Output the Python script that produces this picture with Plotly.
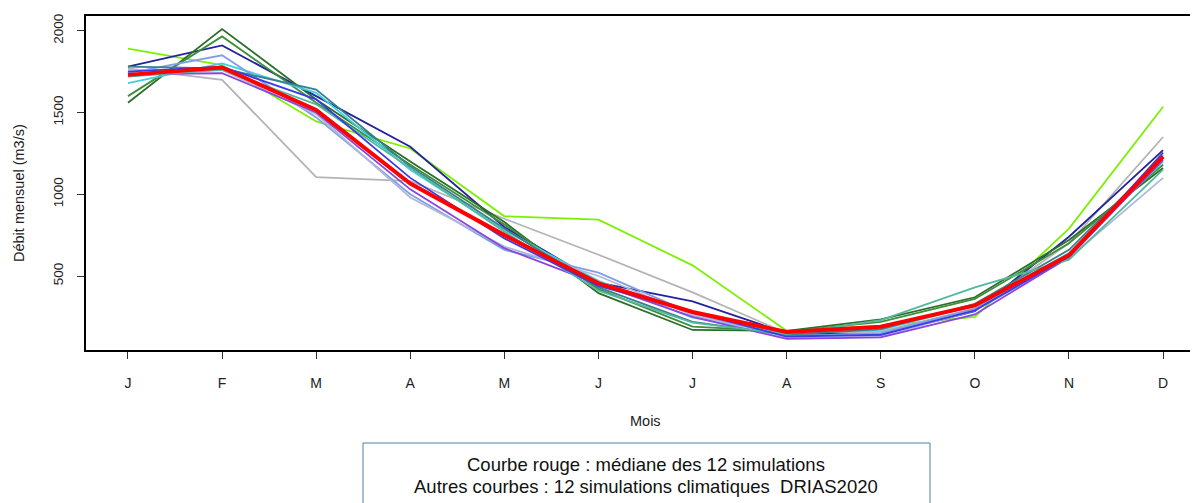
import plotly.graph_objects as go

months = ["J", "F", "M", "A", "M", "J", "J", "A", "S", "O", "N", "D"]
month_idx = list(range(1, 13))

sim_names = ["sim01", "sim02", "sim03", "sim04", "sim05", "sim06",
             "sim07", "sim08", "sim09", "sim10", "sim11", "sim12"]
sim_colors = ["#7CF000", "#B4B4B4", "#23239C", "#2A6E2A", "#3E8E3A", "#3FCFE0",
              "#7FA0E8", "#B0B8DA", "#8A44E0", "#3A7F8C", "#52B89E", "#3A3AE8"]

sim01 = [1890, 1790, 1445, 1280, 865, 845, 565, 165, 195, 250, 790, 1535]
sim02 = [1770, 1700, 1105, 1080, 850, 630, 400, 150, 160, 300, 700, 1350]
sim03 = [1780, 1910, 1600, 1290, 800, 460, 345, 150, 140, 285, 740, 1270]
sim04 = [1560, 2010, 1580, 1200, 830, 395, 170, 165, 235, 370, 720, 1160]
sim05 = [1600, 1965, 1560, 1180, 815, 420, 190, 160, 220, 360, 700, 1180]
sim06 = [1680, 1800, 1620, 1150, 780, 470, 245, 150, 170, 320, 640, 1200]
sim07 = [1740, 1850, 1470, 1000, 660, 520, 270, 130, 150, 300, 620, 1240]
sim08 = [1760, 1760, 1490, 980, 680, 500, 260, 120, 130, 290, 610, 1100]
sim09 = [1735, 1740, 1500, 1030, 670, 450, 250, 115, 125, 265, 615, 1210]
sim10 = [1780, 1770, 1640, 1170, 790, 430, 220, 140, 175, 330, 660, 1230]
sim11 = [1720, 1760, 1550, 1160, 770, 410, 215, 145, 230, 430, 600, 1150]
sim12 = [1750, 1780, 1580, 1100, 730, 440, 280, 130, 140, 290, 620, 1255]
median = [1730, 1775, 1515, 1065, 750, 455, 280, 158, 190, 320, 628, 1230]

sims = [sim01, sim02, sim03, sim04, sim05, sim06,
        sim07, sim08, sim09, sim10, sim11, sim12]

y_ticks = [500, 1000, 1500, 2000]

FONT = "Liberation Sans, Arial, sans-serif"

fig = go.Figure()
for name, col, vals in zip(sim_names, sim_colors, sims):
    fig.add_trace(go.Scatter(x=month_idx, y=vals, mode="lines", name=name,
                             line=dict(color=col, width=1.8), showlegend=False))
fig.add_trace(go.Scatter(x=month_idx, y=median, mode="lines", name="médiane",
                         line=dict(color="#FF0000", width=4), showlegend=False))

# page body adds an 8px offset; margins compensate so the plot box lands
# at screen x 86..1198, y 16..350
fig.update_layout(
    width=1198, height=503,
    margin=dict(l=78, r=8, t=8, b=161, autoexpand=False),
    plot_bgcolor="white", paper_bgcolor="white",
    font=dict(family=FONT, size=13, color="#222222"),
    xaxis=dict(range=[0.554, 12.371], tickmode="array", tickvals=month_idx,
               ticktext=months, showgrid=False, zeroline=False, automargin=False,
               showline=True, linecolor="black", linewidth=2, mirror=True,
               ticks="outside", ticklen=7, tickwidth=1, tickcolor="#333333",
               ticklabelstandoff=12, tickfont=dict(size=14, color="#222222")),
    yaxis=dict(range=[47.5, 2090], tickmode="array", tickvals=y_ticks,
               showgrid=False, zeroline=False, automargin=False,
               showline=True, linecolor="black", linewidth=2, mirror=False,
               ticks="outside", ticklen=7, tickwidth=1, tickcolor="#333333",
               tickangle=-90, ticklabelstandoff=9,
               tickfont=dict(size=13.5, color="#222222")),
)

def px_x(px):
    return (px - 86) / 1112.0

def px_y(py):
    return (350 - py) / 334.0

fig.add_annotation(text="Mois", x=px_x(645), y=px_y(421), xref="paper", yref="paper",
                   showarrow=False, xanchor="center", yanchor="middle",
                   font=dict(size=14.5, color="#222222"))
fig.add_annotation(text="Débit mensuel (m3/s)", x=px_x(19), y=px_y(193),
                   xref="paper", yref="paper", showarrow=False, textangle=-90,
                   xanchor="center", yanchor="middle",
                   font=dict(size=14.5, color="#222222"))

fig.add_shape(type="rect", xref="paper", yref="paper",
              x0=px_x(363), x1=px_x(930), y0=px_y(515), y1=px_y(443),
              line=dict(color="#4F7F9F", width=1), fillcolor="rgba(0,0,0,0)")
fig.add_annotation(text="Courbe rouge : médiane des 12 simulations",
                   x=px_x(646), y=px_y(465), xref="paper", yref="paper",
                   showarrow=False, xanchor="center", yanchor="middle",
                   font=dict(size=18.5, color="#111111"))
fig.add_annotation(text="Autres courbes : 12 simulations climatiques  DRIAS2020",
                   x=px_x(646), y=px_y(486), xref="paper", yref="paper",
                   showarrow=False, xanchor="center", yanchor="middle",
                   font=dict(size=18.5, color="#111111"))

fig.write_html("out.html")
